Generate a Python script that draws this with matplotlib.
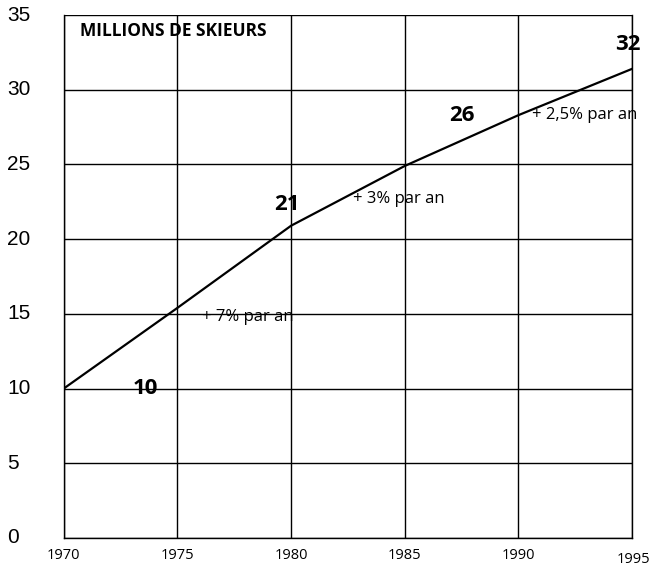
import matplotlib
matplotlib.use("Agg")
import matplotlib.pyplot as plt

# Skier numbers (millions)
years = [1970, 1975, 1980, 1985, 1990, 1995]
skiers = [10, 15.4, 20.9, 24.9, 28.3, 31.4]

x_ticks = [1970, 1975, 1980, 1985, 1990, 1995]
y_ticks = [0, 5, 10, 15, 20, 25, 30, 35]

# labels on the curve
value_labels = ["10", "21", "26", "32"]
value_pos = [(1973.6, 10.0), (1979.8, 22.3), (1987.5, 28.3), (1994.8, 33.0)]
rate_labels = ["+ 7% par an", "+ 3% par an", "+ 2,5% par an"]
rate_pos = [(1976.1, 14.8), (1982.7, 22.7), (1990.6, 28.3)]

fig = plt.figure(figsize=(6.51, 5.79), dpi=100)
ax = fig.add_axes([0.098, 0.071, 0.873, 0.903])

ax.plot(years, skiers, color="black", linewidth=1.6, zorder=3)

ax.set_xlim(1970, 1995)
ax.set_ylim(0, 35)
ax.set_xticks(x_ticks)
ax.set_yticks(y_ticks)
ax.grid(True, color="black", linewidth=1.0)
for s in ["left", "bottom", "right"]:
    ax.spines[s].set_linewidth(1.0)
ax.spines["top"].set_visible(False)
ax.tick_params(length=0)
ax.set_xticklabels([])
ax.set_yticklabels([])

# y tick labels on the far left
for v in y_ticks:
    ax.annotate(str(v), xy=(0, v), xycoords=("figure fraction", "data"),
                xytext=(7, 0), textcoords="offset pixels",
                ha="left", va="center", fontsize=15, family="Liberation Sans")

# x tick labels below
for yr in x_ticks:
    if yr == 1995:
        ax.annotate(str(yr), xy=(yr, 0), xytext=(18, -22), textcoords="offset pixels",
                    ha="right", va="center", fontsize=10.5, family="Open Sans")
    else:
        ax.annotate(str(yr), xy=(yr, 0), xytext=(0, -18), textcoords="offset pixels",
                    ha="center", va="center", fontsize=10.5, family="Open Sans")

ax.text(1970.7, 33.9, "MILLIONS DE SKIEURS", ha="left", va="center",
        fontsize=12.5, fontweight="bold", family="Open Sans")

for lab, (x, y) in zip(value_labels, value_pos):
    ax.text(x, y, lab, ha="center", va="center", fontsize=16,
            fontweight="bold", family="Open Sans", zorder=4)

for lab, (x, y) in zip(rate_labels, rate_pos):
    ax.text(x, y, lab, ha="left", va="center", fontsize=12,
            family="Open Sans", zorder=4)

fig.savefig("out.png", dpi=100)
